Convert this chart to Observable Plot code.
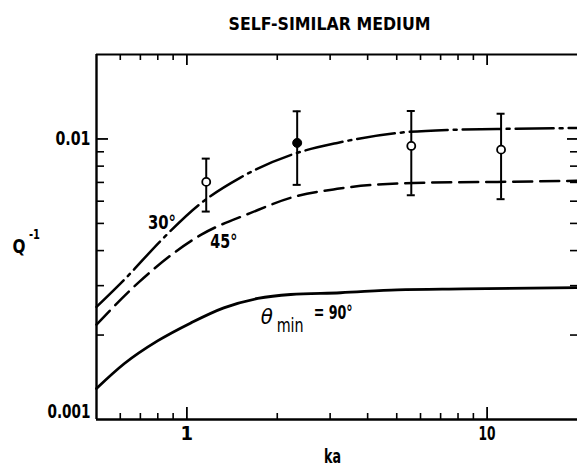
<!DOCTYPE html>
<html><head><meta charset="utf-8">
<script src="https://cdn.jsdelivr.net/npm/d3@7"></script>
<script src="https://cdn.jsdelivr.net/npm/@observablehq/plot@0.6"></script>
<style>body{margin:0;background:#fff} svg{display:block}</style>
</head><body><div id="chart"></div>
<script>
// ---- text ----
const titleText = "SELF-SIMILAR MEDIUM";
const xLabel = "ka";
const yLabelMain = "Q";
const yLabelSup = "-1";

// ---- curves ----
const ka30 = [0.5, 0.624, 0.826, 1.107, 1.503, 2.27, 3.17, 5.02, 7.36, 10.8, 20];
const q30  = [0.00252, 0.00318, 0.00438, 0.00587, 0.00727, 0.00884, 0.00968, 0.0105, 0.01077, 0.01085, 0.01094];

const ka45 = [0.5, 0.688, 1.113, 1.632, 2.216, 3.17, 5.68, 10.8, 20];
const q45  = [0.00218, 0.00307, 0.00455, 0.00545, 0.00617, 0.00664, 0.00697, 0.00703, 0.00709];

const ka90 = [0.5, 0.618, 0.801, 1.031, 1.327, 1.722, 2.216, 3.25, 5.02, 8.32, 20];
const q90  = [0.00129, 0.00158, 0.00191, 0.00221, 0.0025, 0.0027, 0.00279, 0.00283, 0.0029, 0.00292, 0.00295];

// ---- measured points with error bars ----
const ptKa     = [1.16, 2.33, 5.59, 11.13];
const ptQ      = [0.00703, 0.00968, 0.00944, 0.00916];
const ptLo     = [0.00551, 0.00686, 0.0063, 0.0061];
const ptHi     = [0.00851, 0.01255, 0.01258, 0.0123];
const ptFilled = [false, true, false, false];

// ---- curve labels (data coordinates) ----
const lab30 = {text: "30°", ka: 0.826, q: 0.00502};
const lab45 = {text: "45°", ka: 1.327, q: 0.0043};
const lab90 = {theta: "θ", sub: "min", rest: "= 90°", ka: 1.844, q: 0.00232};

// ---- ticks ----
const xMajor = [1, 10];
const xMajorLabels = ["1", "10"];
const xMinor = [0.6, 0.7, 0.8, 0.9, 2, 3, 4, 5, 6, 7, 8, 9];
const yMajor = [0.01];
const yMinor = [0.002, 0.003, 0.004, 0.005, 0.006, 0.007, 0.008, 0.009];
const yLabelTop = {v: 0.01, text: "0.01"};
const yLabelBottom = {v: 0.001, text: "0.001"};

const xDomain = [0.5, 20];
const yDomain = [0.001, 0.02];

const toRows = (xs, ys) => xs.map((x, i) => ({x, y: ys[i]}));
const c30 = toRows(ka30, q30), c45 = toRows(ka45, q45), c90 = toRows(ka90, q90);
const pts = ptKa.map((k, i) => ({ka: k, q: ptQ[i], lo: ptLo[i], hi: ptHi[i], filled: ptFilled[i]}));

const font = "'DejaVu Sans Condensed', 'DejaVu Sans', sans-serif";
const W = 577, H = 467, mL = 96, mR = 0, mT = 54, mB = 48;
const fw = W - mL - mR, fh = H - mT - mB;
const cx = mL + fw / 2, cy = mT + fh / 2;
const id = d => d;
const T = {fill: "#000", lineAnchor: "middle"};

const chart = Plot.plot({
  width: W, height: H,
  marginLeft: mL, marginRight: mR, marginTop: mT, marginBottom: mB,
  style: {fontFamily: font, background: "#fff", color: "#000", fontStretch: "condensed"},
  x: {type: "log", domain: xDomain, axis: null},
  y: {type: "log", domain: yDomain, axis: null},
  marks: [
    // frame
    Plot.ruleY([yDomain[0]], {y: id, stroke: "#000", strokeWidth: 2.4}),
    Plot.ruleY([yDomain[1]], {y: id, stroke: "#000", strokeWidth: 2}),
    Plot.ruleX([xDomain[0]], {x: id, stroke: "#000", strokeWidth: 2.4}),
    // bottom ticks (inward)
    Plot.ruleX(xMinor, {x: id, insetTop: fh - 6, strokeWidth: 1.6}),
    Plot.ruleX(xMajor, {x: id, insetTop: fh - 12, strokeWidth: 1.8}),
    // top ticks
    Plot.ruleX(xMinor, {x: id, insetBottom: fh - 6, strokeWidth: 1.6}),
    Plot.ruleX(xMajor, {x: id, insetBottom: fh - 11, strokeWidth: 1.8}),
    // left ticks
    Plot.ruleY(yMinor, {y: id, insetRight: fw - 8, strokeWidth: 1.6}),
    Plot.ruleY(yMajor, {y: id, insetRight: fw - 12, strokeWidth: 1.8}),
    // right ticks
    Plot.ruleY(yMinor, {y: id, insetLeft: fw - 7, strokeWidth: 1.6}),
    Plot.ruleY(yMajor, {y: id, insetLeft: fw - 10, strokeWidth: 1.8}),
    // curves
    Plot.line(c90, {x: "x", y: "y", stroke: "#000", strokeWidth: 2.8, curve: "monotone-x"}),
    Plot.line(c45, {x: "x", y: "y", stroke: "#000", strokeWidth: 2.5, strokeDasharray: "19,8", curve: "monotone-x"}),
    Plot.line(c30, {x: "x", y: "y", stroke: "#000", strokeWidth: 2.5, strokeDasharray: "38,6,3,6", curve: "monotone-x"}),
    // error bars
    Plot.ruleX(pts, {x: "ka", y1: "lo", y2: "hi", stroke: "#000", strokeWidth: 2}),
    Plot.ruleY(pts, {y: "hi", x1: "ka", x2: "ka", insetLeft: -4, insetRight: -4, stroke: "#000", strokeWidth: 2}),
    Plot.ruleY(pts, {y: "lo", x1: "ka", x2: "ka", insetLeft: -4, insetRight: -4, stroke: "#000", strokeWidth: 2}),
    Plot.dot(pts.filter(d => !d.filled), {x: "ka", y: "q", r: 4, fill: "#fff", stroke: "#000", strokeWidth: 1.8}),
    Plot.dot(pts.filter(d => d.filled), {x: "ka", y: "q", r: 4.5, fill: "#000", stroke: "#000", strokeWidth: 1}),
    // curve labels
    Plot.text([lab30, lab45], {...T, x: "ka", y: "q", text: "text", fontSize: 20, fontWeight: "bold"}),
    Plot.text([lab90], {...T, x: "ka", y: "q", text: "theta", fontSize: 22, fontStyle: "italic"}),
    Plot.text([lab90], {...T, x: "ka", y: "q", text: "sub", fontSize: 19, textAnchor: "start", dx: 10, dy: 9}),
    Plot.text([lab90], {...T, x: "ka", y: "q", text: "rest", fontSize: 19, fontWeight: "bold", textAnchor: "start", dx: 47, dy: -4}),
    // tick labels
    Plot.text(xMajor, {...T, x: id, text: (d, i) => xMajorLabels[i], frameAnchor: "bottom", dy: 14, fontSize: 20, fontWeight: "bold"}),
    Plot.text([yLabelTop], {...T, y: "v", text: "text", frameAnchor: "left", textAnchor: "end", dx: -6, fontSize: 20, fontWeight: "bold"}),
    Plot.text([yLabelBottom], {...T, y: "v", text: "text", frameAnchor: "left", textAnchor: "end", dx: -6, dy: -8, fontSize: 20, fontWeight: "bold"}),
    // axis titles and title
    Plot.text([xLabel], {...T, text: id, frameAnchor: "bottom", textAnchor: "middle", dx: 332 - cx, dy: 37, fontSize: 19, fontWeight: "bold"}),
    Plot.text([yLabelMain], {...T, text: id, frameAnchor: "left", textAnchor: "middle", dx: 18.5 - mL, dy: 246 - cy, fontSize: 20, fontWeight: "bold"}),
    Plot.text([yLabelSup], {...T, text: id, frameAnchor: "left", textAnchor: "middle", dx: 34 - mL, dy: 234 - cy, fontSize: 14, fontWeight: "bold"}),
    Plot.text([titleText], {...T, text: id, frameAnchor: "top", textAnchor: "middle", dx: 329 - cx, dy: -30.5, fontSize: 18, fontWeight: "bold"})
  ]
});
document.getElementById("chart").appendChild(chart);

// fit the widths of the condensed reference lettering
const widths = new Map([
  [titleText, 202], ["0.01", 35], ["0.001", 43], ["10", 17], ["30°", 28], ["45°", 27],
  ["min", 27], ["= 90°", 39], [xLabel, 17], [yLabelMain, 13], [yLabelSup, 11]
]);
d3.select(chart).selectAll("text").each(function() {
  const w = widths.get(this.textContent);
  if (w) d3.select(this).attr("textLength", w).attr("lengthAdjust", "spacingAndGlyphs");
});
</script>
</body></html>
